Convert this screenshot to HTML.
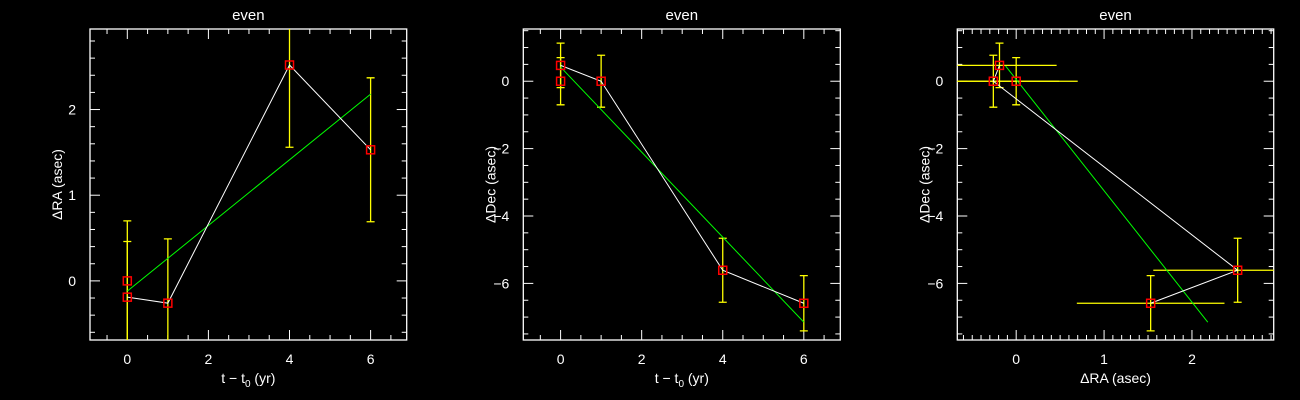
<!DOCTYPE html>
<html><head><meta charset="utf-8"><style>
html,body{margin:0;padding:0;background:#000;}
svg{display:block;font-family:"Liberation Sans",sans-serif;}
</style></head><body>
<svg id="fig" width="1300" height="400" viewBox="0 0 1300 400"></svg>
<script>
// Panel 1: RA vs time
const p1T = [0, 0, 1, 4, 6];
const p1RA = [0, -0.19, -0.26, 2.52, 1.53];
const p1Err = [0.7, 0.65, 0.75, 0.96, 0.84];
const p1Line = [1, 2, 3, 4];
const p1Fit = [[0, -0.12], [6, 2.18]];
// Panel 2: Dec vs time
const p2Dec = [0, 0.47, 0, -5.61, -6.59];
const p2Err = [0.7, 0.66, 0.77, 0.95, 0.82];
const p2Fit = [[0, 0.42], [6, -7.15]];
// Panel 3: Dec vs RA
const p3Fit = [[-0.12, 0.45], [2.18, -7.15]];
const p3Line = [1, 2, 3, 4];
const xTicks1 = [0, 2, 4, 6];
const yTicks1 = [0, 1, 2];
const yTicks2 = [0, -2, -4, -6];
const xTicks3 = [0, 1, 2];

const NS = "http://www.w3.org/2000/svg";
const svg = document.getElementById('fig');
function mk(tag, attrs, parent){
  const e = document.createElementNS(NS, tag);
  for (const k in attrs) e.setAttribute(k, attrs[k]);
  (parent||svg).appendChild(e);
  return e;
}
function fmt(v){ return v < 0 ? '\u2212' + Math.abs(v) : String(v); }

function panel(o){
  const g = mk('g', {});
  
  
  const sx = v => o.x0 + (v - o.xmin) / (o.xmax - o.xmin) * (o.x1 - o.x0);
  const sy = v => o.y1 - (v - o.ymin) / (o.ymax - o.ymin) * (o.y1 - o.y0);
  const defs = mk('defs', {}, g);
  const cp = mk('clipPath', {id: o.name + '-clip'}, defs);
  mk('rect', {x: o.x0, y: o.y0, width: o.x1 - o.x0, height: o.y1 - o.y0}, cp);
  // frame
  const fr = mk('rect', {x: o.x0, y: o.y0, width: o.x1 - o.x0, height: o.y1 - o.y0, fill: 'none', stroke: '#fff', 'stroke-width': 1.3}, g);
  
  
  // x ticks
  for (let v = Math.ceil(o.xmin / o.xminor) * o.xminor; v <= o.xmax + 1e-9; v += o.xminor) {
    const isMaj = Math.abs(v / o.xmajor - Math.round(v / o.xmajor)) < 1e-6;
    const L = isMaj ? 10 : 5, X = sx(v);
    mk('line', {x1: X, x2: X, y1: o.y1, y2: o.y1 - L, stroke: '#fff', 'stroke-width': 1}, g);
    mk('line', {x1: X, x2: X, y1: o.y0, y2: o.y0 + L, stroke: '#fff', 'stroke-width': 1}, g);
  }
  for (let v = Math.ceil(o.ymin / o.yminor) * o.yminor; v <= o.ymax + 1e-9; v += o.yminor) {
    const isMaj = Math.abs(v / o.ymajor - Math.round(v / o.ymajor)) < 1e-6;
    const L = isMaj ? 10 : 5, Y = sy(v);
    mk('line', {x1: o.x0, x2: o.x0 + L, y1: Y, y2: Y, stroke: '#fff', 'stroke-width': 1}, g);
    mk('line', {x1: o.x1, x2: o.x1 - L, y1: Y, y2: Y, stroke: '#fff', 'stroke-width': 1}, g);
  }
  o.xticks.forEach(v => {
    const t = mk('text', {x: sx(v), y: o.y1 + 24, fill: '#fff', 'font-size': 14, 'text-anchor': 'middle'}, g);
    t.textContent = fmt(v);
    
    
  });
  o.yticks.forEach(v => {
    const t = mk('text', {x: o.x0 - 14, y: sy(v) + 5, fill: '#fff', 'font-size': 14, 'text-anchor': 'end'}, g);
    t.textContent = fmt(v);
    
    
  });
  const ti = mk('text', {x: (o.x0 + o.x1) / 2, y: 20, fill: '#fff', 'font-size': 15, 'text-anchor': 'middle'}, g);
  ti.textContent = 'even';
  
  
  const xt = mk('text', {x: (o.x0 + o.x1) / 2, y: o.y1 + 43, fill: '#fff', 'font-size': 14, 'text-anchor': 'middle'}, g);
  xt.innerHTML = o.xlabel;
  
  
  const yc = (o.y0 + o.y1) / 2, yx = o.x0 - 28;
  const yt = mk('text', {x: yx, y: yc, fill: '#fff', 'font-size': 14, 'text-anchor': 'middle', transform: 'rotate(-90 ' + yx + ' ' + yc + ')'}, g);
  yt.textContent = o.ylabel;
  
  

  const dg = mk('g', {'clip-path': 'url(#' + o.name + '-clip)'}, g);
  // error bars
  o.xs.forEach((xv, i) => {
    const X = sx(xv), Y = sy(o.ys[i]);
    if (o.yerr) {
      const a = sy(o.ys[i] + o.yerr[i]), b = sy(o.ys[i] - o.yerr[i]);
      const e = mk('path', {d: `M${X},${a}V${b}M${X-4},${a}H${X+4}M${X-4},${b}H${X+4}`, stroke: '#ff0', 'stroke-width': 1.3, fill: 'none'}, dg);
      
      
    }
    if (o.xerr) {
      const a = sx(xv - o.xerr[i]), b = sx(xv + o.xerr[i]);
      const e = mk('path', {d: `M${a},${Y}H${b}`, stroke: '#ff0', 'stroke-width': 1.3, fill: 'none'}, dg);
      
      
    }
  });
  // fit
  const f = mk('line', {x1: sx(o.fit[0][0]), y1: sy(o.fit[0][1]), x2: sx(o.fit[1][0]), y2: sy(o.fit[1][1]), stroke: '#0f0', 'stroke-width': 1}, dg);
  
  
  // data line
  const pts = o.line.map(i => sx(o.xs[i]) + ',' + sy(o.ys[i])).join(' ');
  const pl = mk('polyline', {points: pts, fill: 'none', stroke: '#fff', 'stroke-width': 1}, dg);
  
  
  // markers
  o.xs.forEach((xv, i) => {
    const m = mk('rect', {x: sx(xv) - 4, y: sy(o.ys[i]) - 4, width: 8, height: 8, fill: 'none', stroke: '#f00', 'stroke-width': 1.5}, dg);
    
    
  });
}

panel({name: 'panel-ra-time', x0: 90, x1: 406.7, y0: 29, y1: 340, xmin: -0.92, xmax: 6.89, ymin: -0.69, ymax: 2.94,
  xmajor: 2, xminor: 0.5, ymajor: 1, yminor: 0.2, xticks: xTicks1, yticks: yTicks1,
  xs: p1T, ys: p1RA, yerr: p1Err, line: p1Line, fit: p1Fit,
  xlabel: 't \u2212 t<tspan font-size="10" dy="4">0</tspan><tspan dy="-4"> (yr)</tspan>', ylabel: '\u0394RA (asec)'});
panel({name: 'panel-dec-time', x0: 523.3, x1: 840.3, y0: 29, y1: 340, xmin: -0.92, xmax: 6.9, ymin: -7.68, ymax: 1.55,
  xmajor: 2, xminor: 0.5, ymajor: 2, yminor: 0.5, xticks: xTicks1, yticks: yTicks2,
  xs: p1T, ys: p2Dec, yerr: p2Err, line: p1Line, fit: p2Fit,
  xlabel: 't \u2212 t<tspan font-size="10" dy="4">0</tspan><tspan dy="-4"> (yr)</tspan>', ylabel: '\u0394Dec (asec)'});
panel({name: 'panel-dec-ra', x0: 957.3, x1: 1273.7, y0: 29, y1: 340, xmin: -0.67, xmax: 2.93, ymin: -7.68, ymax: 1.55,
  xmajor: 1, xminor: 0.1, ymajor: 2, yminor: 0.5, xticks: xTicks3, yticks: yTicks2,
  xs: p1RA, ys: p2Dec, yerr: p2Err, xerr: p1Err, line: p3Line, fit: p3Fit,
  xlabel: '\u0394RA (asec)', ylabel: '\u0394Dec (asec)'});
</script>
</body></html>
